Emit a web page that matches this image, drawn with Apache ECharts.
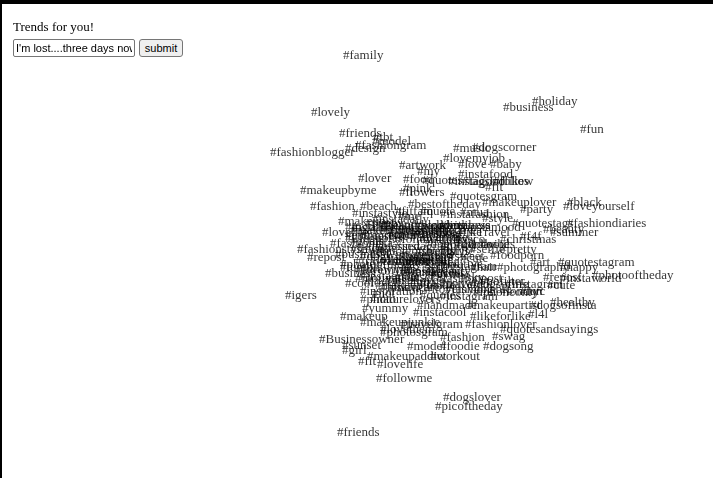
<!DOCTYPE html>
<html>
<head>
<meta charset="utf-8">
<script src="https://cdn.jsdelivr.net/npm/echarts@6/dist/echarts.min.js"></script>
<style>
  html, body { margin: 0; padding: 0; background: #fff; width: 713px; height: 478px; overflow: hidden; }
  #topbar { position: absolute; left: 0; top: 0; width: 713px; height: 4px; background: #000; }
  #leftbar { position: absolute; left: 0; top: 0; width: 2px; height: 478px; background: #000; }
  #chart { position: absolute; left: 0; top: 0; width: 713px; height: 478px; }
  #title { position: absolute; left: 13px; top: 19px; font: 13px "Liberation Serif", "Times New Roman", serif; color: #000; line-height: 16px; white-space: nowrap; }
  #q { position: absolute; left: 13px; top: 39px; width: 122px; height: 18px; box-sizing: border-box; border: 1px solid #767676; border-radius: 2px; font: 11px "Liberation Sans", Arial, sans-serif; padding: 0 2px; color: #000; }
  #go { position: absolute; left: 139px; top: 39px; width: 44px; height: 18px; box-sizing: border-box; border: 1px solid #767676; border-radius: 3px; background: #efefef; font: 11px "Liberation Sans", Arial, sans-serif; padding: 0; color: #000; }
</style>
</head>
<body>
<div id="chart"></div>
<div id="topbar"></div>
<div id="leftbar"></div>
<div id="title">Trends for you!</div>
<input id="q" type="text" value="I'm lost....three days now">
<button id="go">submit</button>
<script>
// Hashtag labels with their layout positions (x = left of text, y = middle of text)
const words = [
  "#family","#holiday","#business","#lovely","#fun","#friends","#tbt","#model","#fashiongram","#design",
  "#fashionblogger","#music","#dogscorner","#lovemyjob","#love","#baby","#artwork","#my","#instafood","#lover",
  "#food","#quotes","#instagood","#tagsforlikes","#follow","#fit","#pink","#makeupbyme","#flowers","#quotesgram",
  "#makeuplover","#black","#bestoftheday","#fashion","#beach","#loveyourself","#party","#fashiondiaries","#summer","#beauty",
  "#photooftheday","#quotestagram","#art","#instaworld","#repost","#cute","#healthy","#dogsofinsta","#l4l","#likeforlike",
  "#quotesandsayings","#swag","#dogsong","#fashion","#workout","#igers","#photo","#hot","#yummy","#handmade",
  "#instacool","#makeup","#Businessowner","#sunset","#girl","#makeupaddict","#fit","#lovelife","#followme","#dogslover",
  "#picoftheday","#friends","#fashionstyle","#repost","#business","#lovelife","#makeup","#iphoneonly","#makeupartist","#photography",
  "#instadaily","#me","#business","#quotestags","#style","#Travel","#f4f","#instalike","#makeuptoday","#lifestyle",
  "#beautiful","#fashionista","#nature","#vsco","#ootd","#smile","#instagram","#girls","#selfie","#pretty",
  "#dogs","#tflers","#cute","#foodporn","#amazing","#photooftheday","#lol","#hair","#instapic","#motivation",
  "#gym","#sky","#nofilter","#cool","#funny","#girl","#travel","#inspiration","#quotes","#instagram",
  "#fashionable","#dogsofinstagram","#sunset","#life","#tbt","#follow4follow","#like4like","#instamood","#christmas","#wedding",
  "#beautyblogger","#quote","#instafashion","#fitfam","#mua","#london","#nyc","#drawing","#makeupjunkie","#travelgram",
  "#photosgram","#model","#foodie","#fashionlover","#lovethem","#happy","#instastyle","#beautyful","#goodvibes","#naturelovers",
  "#businesswoman","#entrepreneur","#lovemylife","#puppy","#blessed","#instalove","#picstitch","#doglover","#streetstyle","#success",
  "#goals","#instaquote","#lovequotes","#makeupoftheday","#skincare","#weekend","#adventure","#fashionweek","#dogstagram","#mood",
  "#tumblr","#igdaily","#loveit","#quoteoftheday","#makeuplook","#wanderlust","#outfit","#dogoftheday","#fashionpost","#sweet",
  "#lifequotes","#travelling","#cutie","#makeupjunkie","#handmadewithlove","#sunshine","#instabeauty","#hashtag","#ilovemydog","#positive"
];
const xs = [
  343,532,503,311,580,339,373,372,355,345,
  270,453,472,443,458,490,399,417,458,358,
  403,422,448,462,493,485,403,300,399,450,
  482,567,408,310,360,563,520,567,550,543,
  592,558,530,560,543,547,550,530,528,470,
  500,492,483,440,430,285,360,372,362,417,
  413,340,319,342,342,367,358,377,376,443,
  435,337,297,307,325,322,338,473,467,497,
  372,398,440,512,482,470,520,345,350,360,
  400,330,420,455,480,350,395,440,470,500,
  360,420,460,490,380,340,440,470,400,355,
  430,460,480,345,380,410,440,360,420,440,
  445,470,395,505,370,395,430,460,500,415,
  380,420,440,395,460,500,520,360,360,400,
  380,407,440,465,380,560,352,395,455,370,
  335,345,355,365,375,385,395,405,415,425,
  350,360,370,380,390,400,410,420,430,440,
  340,352,364,376,388,400,412,424,436,448,
  345,355,365,375,385,395,405,415,425,435
];
const ys = [
  56,102,108,113,130,134,138,142,146,149,
  153,149,148,159,165,165,166,172,175,179,
  180,181,182,182,182,188,189,191,193,197,
  203,203,205,207,207,207,210,224,233,230,
  276,263,263,279,278,286,303,306,315,317,
  330,337,347,338,357,296,300,294,309,306,
  313,317,340,346,351,357,362,365,379,398,
  407,433,250,258,274,233,222,293,306,268,
  220,217,226,224,219,233,237,228,231,237,
  232,244,240,240,245,250,247,252,250,250,
  257,258,259,256,262,265,265,268,270,279,
  275,278,282,284,288,283,285,292,296,297,
  290,285,278,285,253,240,233,228,240,226,
  226,212,215,212,213,292,292,270,323,325,
  333,347,347,325,330,268,214,262,245,300,
  255,236,271,224,247,281,229,263,252,274,
  242,277,260,231,288,256,238,284,267,246,
  268,228,283,252,235,273,261,245,279,257,
  239,262,249,286,226,258,272,234,290,265
];

const points = words.map((w, i) => ({ name: w, value: [xs[i], ys[i]] }));

const chart = echarts.init(document.getElementById('chart'), null, { renderer: 'canvas' });
chart.setOption({
  animation: false,
  backgroundColor: 'transparent',
  grid: { left: 0, right: 0, top: 0, bottom: 0 },
  xAxis: { type: 'value', min: 0, max: 713, show: false },
  yAxis: { type: 'value', min: 0, max: 478, inverse: true, show: false },
  series: [{
    type: 'scatter',
    symbolSize: 0,
    data: points,
    label: {
      show: true,
      position: 'right',
      distance: 0,
      formatter: p => p.name,
      color: '#000',
      fontSize: 13,
      fontFamily: '"Liberation Serif", "Times New Roman", serif'
    },
    labelLayout: { hideOverlap: false },
    emphasis: { disabled: true }
  }]
});
</script>
</body>
</html>
